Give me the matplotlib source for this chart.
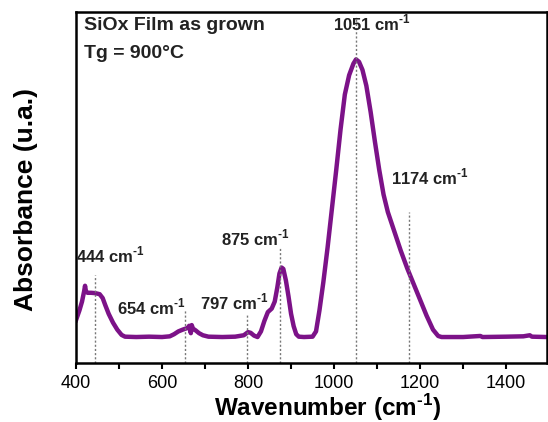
import matplotlib
matplotlib.use("Agg")
import matplotlib.pyplot as plt
from matplotlib.ticker import MultipleLocator

plt.rcParams['font.family'] = ['Liberation Sans', 'DejaVu Sans']
plt.rcParams['mathtext.fontset'] = 'custom'
plt.rcParams['mathtext.rm'] = 'Liberation Sans:bold'
plt.rcParams['mathtext.bf'] = 'Liberation Sans:bold'

wavenumber = [400, 408, 414, 419, 421, 423, 427, 435, 445, 455, 462, 468, 476, 486, 496, 506, 514,
              540, 570, 600, 618, 628, 638, 648, 655, 660, 663, 665, 667, 669, 672, 678, 686, 695, 708,
              740, 770, 790, 800, 806, 814, 822, 830, 838, 846, 855, 862, 868, 873, 878, 882, 888, 894,
              900, 906, 912, 918, 930, 950, 958, 966, 975, 985, 995, 1005, 1015, 1025, 1035, 1045, 1051,
              1058, 1066, 1075, 1085, 1095, 1105, 1115, 1125, 1140, 1155, 1170, 1185, 1200, 1215, 1230,
              1242, 1250, 1300, 1340, 1345, 1400, 1440, 1455, 1460, 1495]
absorbance = [0.122, 0.150, 0.175, 0.205, 0.220, 0.205, 0.200, 0.200, 0.199, 0.196, 0.185, 0.165, 0.140,
              0.115, 0.095, 0.080, 0.075, 0.074, 0.075, 0.074, 0.076, 0.082, 0.090, 0.095, 0.098, 0.100,
              0.106, 0.095, 0.085, 0.108, 0.098, 0.093, 0.085, 0.079, 0.075, 0.074, 0.075, 0.079, 0.088,
              0.086, 0.078, 0.074, 0.090, 0.120, 0.145, 0.155, 0.175, 0.215, 0.255, 0.272, 0.268, 0.235,
              0.190, 0.140, 0.105, 0.082, 0.075, 0.074, 0.075, 0.090, 0.150, 0.230, 0.330, 0.440, 0.550,
              0.665, 0.765, 0.820, 0.853, 0.865, 0.858, 0.835, 0.790, 0.715, 0.630, 0.550, 0.480, 0.430,
              0.375, 0.320, 0.270, 0.225, 0.180, 0.135, 0.095, 0.077, 0.074, 0.074, 0.077, 0.074, 0.075,
              0.076, 0.079, 0.075, 0.074]

peak_positions = [444, 654, 797, 875, 1051, 1174]
peak_line_tops = [0.251, 0.151, 0.142, 0.328, 0.986, 0.430]
peak_labels = ["444", "654", "797", "875", "1051", "1174"]
label_x = [479, 574, 767, 817, 1088, 1223]
label_y = [0.308, 0.160, 0.174, 0.356, 0.969, 0.530]

fig = plt.figure(figsize=(5.48, 4.22), dpi=100)
ax = fig.add_axes([76/548, 59/422, 471/548, 351/422])

ax.plot(wavenumber, absorbance, color='#7C1288', lw=3.2, solid_joinstyle='round')

for xp, top in zip(peak_positions, peak_line_tops):
    ax.plot([xp, xp], [0, top], color='#777777', lw=1, ls=(0, (1.5, 1.5)))

for lab, lx, ly in zip(peak_labels, label_x, label_y):
    ax.text(lx, ly, lab + r" cm$^{\text{-1}}$", ha='center', va='center',
            fontsize=12, fontweight='bold', color='#222222')

ax.text(0.018, 0.962, "SiOx Film as grown", transform=ax.transAxes, fontsize=14,
        fontweight='bold', va='center', ha='left', color='#222222')
ax.text(0.018, 0.882, "Tg = 900°C", transform=ax.transAxes, fontsize=14,
        fontweight='bold', va='center', ha='left', color='#222222')

ax.set_xlim(400, 1495)
ax.set_ylim(0, 1)
ax.set_yticks([])
ax.xaxis.set_major_locator(MultipleLocator(200))
ax.xaxis.set_minor_locator(MultipleLocator(100))
ax.tick_params(axis='x', which='both', direction='out', length=4, width=1.5, labelsize=13, pad=5)
for s in ax.spines.values():
    s.set_linewidth(1.8)

ax.set_xlabel(r"Wavenumber (cm$^{\text{-1}}$)", fontsize=17.5, fontweight='bold', va='center')
ax.xaxis.set_label_coords(0.535, -0.128)
ax.set_ylabel("Absorbance (u.a.)", fontsize=19, fontweight='bold', va='center')
ax.yaxis.set_label_coords(-0.106, 0.465)

fig.savefig("out.png", dpi=100)
